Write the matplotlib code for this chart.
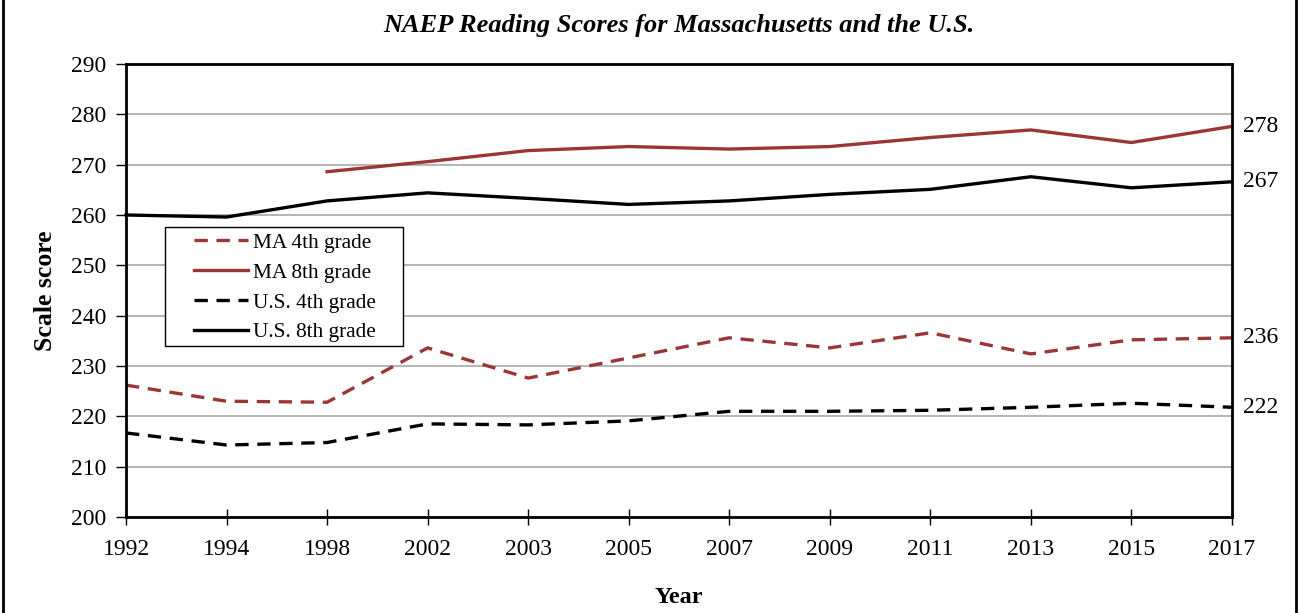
import numpy as np
import matplotlib
matplotlib.use('Agg')
import matplotlib.pyplot as plt
from matplotlib.lines import Line2D
from matplotlib.patches import Rectangle
from matplotlib.legend_handler import HandlerLine2D

years = ['1992', '1994', '1998', '2002', '2003', '2005', '2007',
         '2009', '2011', '2013', '2015', '2017']
ma_4th = [226.2, 223.0, 222.8, 233.6, 227.6, 231.6, 235.6, 233.6, 236.6, 232.4, 235.2, 235.6]
ma_8th = [np.nan, np.nan, 268.6, 270.6, 272.8, 273.6, 273.1, 273.6, 275.4, 276.9, 274.4, 277.6]
us_4th = [216.7, 214.3, 214.8, 218.5, 218.3, 219.1, 221.0, 221.0, 221.2, 221.8, 222.6, 221.8]
us_8th = [260.0, 259.6, 262.8, 264.4, 263.3, 262.1, 262.8, 264.1, 265.1, 267.6, 265.4, 266.6]
end_labels = ['236', '278', '222', '267']

red = '#9c3636'
plt.rcParams['font.family'] = ['Liberation Serif', 'DejaVu Serif']

W, H = 1299, 613
fig = plt.figure(figsize=(W/100, H/100), dpi=100)
ax = fig.add_axes([126/W, 1 - 517/H, (1232 - 126)/W, (517 - 64)/H])

x = np.arange(len(years))
dash = (0, (4.0, 2.6))
lw = 2.4
series = [
    (ma_4th, red, dash, 'MA 4th grade'),
    (ma_8th, red, '-', 'MA 8th grade'),
    (us_4th, 'black', dash, 'U.S. 4th grade'),
    (us_8th, 'black', '-', 'U.S. 8th grade'),
]
for (vals, col, ls, lab), txt in zip(series, end_labels):
    ax.plot(x, vals, color=col, linestyle=ls, lw=lw, label=lab,
            solid_joinstyle='round', dash_capstyle='butt', clip_on=False)
    ax.annotate(txt, xy=(x[-1], vals[-1]), xytext=(8, 0), textcoords='offset points',
                va='center', ha='left', fontsize=17, annotation_clip=False)

ax.set_xlim(0, len(years) - 1)
ax.set_ylim(200, 290)
ax.set_yticks(np.arange(200, 291, 10))
ax.set_xticks(x)
ax.set_xticklabels(years)
ax.yaxis.grid(True, color='#a0a0a0', lw=1.1)
ax.set_axisbelow(True)

for s in ax.spines.values():
    s.set_linewidth(2)
ax.tick_params(axis='x', direction='inout', length=12, width=1, labelsize=17, pad=10)
ax.tick_params(axis='y', direction='out', length=7, width=1, labelsize=17, pad=7)

ax.set_title('NAEP Reading Scores for Massachusetts and the U.S.', fontsize=19,
             fontweight='bold', style='italic', pad=23)
ax.set_ylabel('Scale score', fontsize=18.5, fontweight='bold', labelpad=10)
ax.set_xlabel('Year', fontsize=17.5, fontweight='bold', labelpad=19)

# legend box drawn by hand so the padding matches
box = Rectangle((165/W, 1 - 346/H), (403 - 165)/W, (346 - 227)/H, transform=fig.transFigure,
                facecolor='white', edgecolor='black', lw=1, zorder=4, clip_on=False)
ax.add_patch(box)
leg = ax.legend(loc='upper left', bbox_to_anchor=(165/W, 1 - 233/H),
                bbox_transform=fig.transFigure, fontsize=15.3, frameon=False,
                handlelength=3.9, handletextpad=0.25, borderpad=0, labelspacing=0.47,
                borderaxespad=0,
                handler_map={Line2D: HandlerLine2D(xpad=1.35, marker_pad=0)})
leg.set_zorder(5)

# outer frame (left and right edges only)
fig.add_artist(Line2D([3/W, 3/W], [0, 1], color='black', lw=2, transform=fig.transFigure))
fig.add_artist(Line2D([1296/W, 1296/W], [0, 1], color='black', lw=2, transform=fig.transFigure))

fig.savefig('out.png', dpi=100)
